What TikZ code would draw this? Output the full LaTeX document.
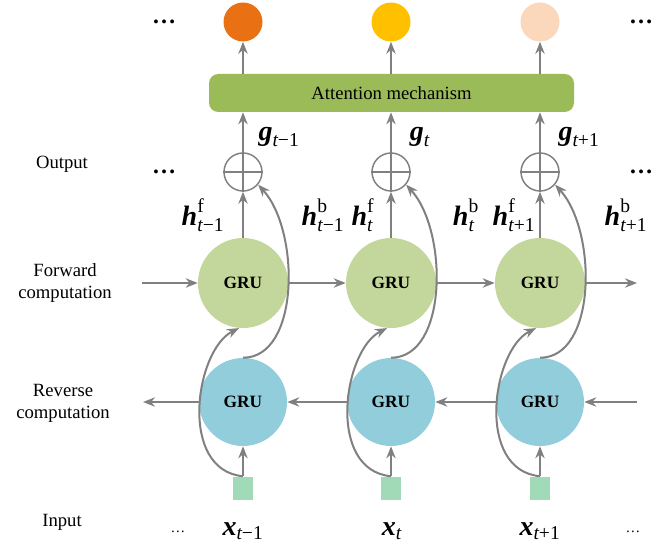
\documentclass[tikz,border=0pt]{standalone}
\usepackage{fontspec}
\setmainfont{Liberation Serif}
\usepackage{amsmath}
\usetikzlibrary{arrows.meta}
\definecolor{agray}{HTML}{808080}
\definecolor{fgreen}{HTML}{C3D69B}
\definecolor{rblue}{HTML}{92CDDC}
\definecolor{attgreen}{HTML}{9BBB59}
\definecolor{inpgreen}{HTML}{A0DAB6}
\definecolor{oA}{HTML}{E97114}
\definecolor{oB}{HTML}{FFC000}
\definecolor{oC}{HTML}{FBD7BC}
\newcommand{\bvec}[1]{\text{\bfseries\itshape #1}}
\newcommand{\tsub}[1]{\text{\itshape t}\text{#1}}
\begin{document}
\begin{tikzpicture}[x=0.75pt,y={(0pt,-0.75pt)},
  arr/.style={draw=agray, line width=1.5pt, -{Stealth[length=9pt,width=7pt]}},
  fgru/.style={circle, fill=fgreen, minimum size=67.5pt, inner sep=0pt, font=\fontsize{13}{15}\selectfont\bfseries},
  rgru/.style={circle, fill=rblue, minimum size=66pt, inner sep=0pt, font=\fontsize{13}{15}\selectfont\bfseries},
  outc/.style={circle, minimum size=29.25pt, inner sep=0pt},
  opl/.style={circle, draw=agray, line width=1.1pt, minimum size=28.5pt, inner sep=0pt},
  inp/.style={rectangle, fill=inpgreen, minimum width=15pt, minimum height=17.25pt, inner sep=0pt},
  attn/.style={rectangle, rounded corners=7pt, fill=attgreen, minimum width=273.75pt, minimum height=28.5pt, inner sep=0pt, font=\fontsize{14}{16}\selectfont},
  lab/.style={font=\fontsize{14}{16.5}\selectfont, align=center},
  mlab/.style={font=\fontsize{21}{25}\selectfont, inner sep=0pt, anchor=base},
  bigdots/.style={font=\fontsize{18}{18}\selectfont\bfseries, inner sep=0pt},
  smalldots/.style={font=\fontsize{11}{11}\selectfont, inner sep=0pt}
]
\useasboundingbox (0,0) rectangle (666,549);

% left labels
\node[lab] (lo) at (62,164) {Output};
\node[lab] (lf) at (65,283) {Forward\\computation};
\node[lab] (lr) at (63,403) {Reverse\\computation};
\node[lab] (li) at (62,522) {Input};

% dots
\node[bigdots] (d1) at (164,22) {…};
\node[bigdots] (d2) at (641,22) {…};
\node[bigdots] (d3) at (164,172) {…};
\node[bigdots] (d4) at (641,172) {…};
\node[smalldots] (d5) at (178,532) {…};
\node[smalldots] (d6) at (633,532) {…};

% attention box
\node[attn] (att) at (391.5,93) {Attention mechanism};

% columns
\node[outc, fill=oA] (o1) at (243,22) {};
\node[outc, fill=oB] (o2) at (391,22) {};
\node[outc, fill=oC] (o3) at (540,22) {};
\foreach \i/\c in {1/243,2/391,3/540}{
  \node[opl] (op\i) at (\c,172) {};
  \draw[agray, line width=1.1pt] (op\i.north) -- (op\i.south) (op\i.west) -- (op\i.east);
  \node[fgru] (f\i) at (\c,283) {GRU};
  \node[rgru] (r\i) at (\c,402) {GRU};
  \node[inp] (in\i) at (\c,488) {};
  \draw[arr] (att.north -| o\i) -- (o\i.south);
  \draw[arr] (op\i.north) -- (att.south -| op\i);
  \draw[arr] (f\i.north) -- (op\i.south);
  \draw[arr] (in\i.north) -- (r\i.south);
  \draw[arr] (in\i.north) .. controls +(-65,-6) and +(-44,22) .. (f\i.265);
  \draw[arr] (r\i.north) .. controls +(57,0) and +(42,46) .. (op\i.-40);
}

% horizontal arrows
\coordinate (fl) at (142,283);
\coordinate (fr) at (637,283);
\coordinate (rl) at (143,402);
\coordinate (rr) at (637,402);
\draw[arr] (fl) -- (f1.west);
\draw[arr] (f1.east) -- (f2.west);
\draw[arr] (f2.east) -- (f3.west);
\draw[arr] (f3.east) -- (fr);
\draw[arr] (rr) -- (r3.east);
\draw[arr] (r3.west) -- (r2.east);
\draw[arr] (r2.west) -- (r1.east);
\draw[arr] (r1.west) -- (rl);

% math labels
\node[mlab] (g1) at (279,140) {$\bvec{g}_{\tsub{−1}}$};
\node[mlab] (g2) at (420,140) {$\bvec{g}_{\tsub{}}$};
\node[mlab] (g3) at (579,140) {$\bvec{g}_{\tsub{+1}}$};
\node[mlab] (hf1) at (203,225) {$\bvec{h}^{\text{f}}_{\tsub{−1}}$};
\node[mlab] (hb1) at (323,225) {$\bvec{h}^{\text{b}}_{\tsub{−1}}$};
\node[mlab] (hf2) at (363,225) {$\bvec{h}^{\text{f}}_{\tsub{}}$};
\node[mlab] (hb2) at (466,225) {$\bvec{h}^{\text{b}}_{\tsub{}}$};
\node[mlab] (hf3) at (514,225) {$\bvec{h}^{\text{f}}_{\tsub{+1}}$};
\node[mlab] (hb3) at (626,225) {$\bvec{h}^{\text{b}}_{\tsub{+1}}$};
\node[mlab] (x1) at (243,535) {$\bvec{x}_{\tsub{−1}}$};
\node[mlab] (x2) at (392,535) {$\bvec{x}_{\tsub{}}$};
\node[mlab] (x3) at (540,535) {$\bvec{x}_{\tsub{+1}}$};
\end{tikzpicture}
\end{document}
